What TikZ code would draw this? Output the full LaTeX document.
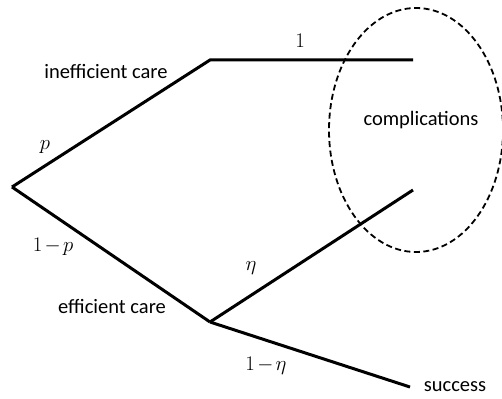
\documentclass[tikz,border=0pt]{standalone}
\usepackage{amsmath}
\usepackage{fontspec}
\setmainfont{Carlito}

\newcommand{\mminus}{\mkern2mu{-}\mkern2mu}

\tikzset{
  branch/.style={line width=3pt},
  txtlbl/.style={font=\fontsize{20.5}{24}\selectfont, inner sep=0pt},
  mathlbl/.style={font=\fontsize{22}{26}\selectfont, inner sep=0pt}
}

\begin{document}
\begin{tikzpicture}[x=1pt, y=-1pt]
\useasboundingbox (0,0) rectangle (502,398);

% Punkty drzewa
\coordinate (root) at (12,187);
\coordinate (ineff) at (210,60);
\coordinate (ineffend) at (413,60);
\coordinate (eff) at (210,322);
\coordinate (complend) at (413,190);
\coordinate (succend) at (410,387);

% Galezie
\draw[branch, line join=miter] (root) -- (ineff) -- (ineffend);
\draw[branch] (root) -- (eff);
\draw[branch] (eff) -- (complend);
\draw[branch] (eff) -- (succend);

% Obszar komplikacji
\draw[line width=1.8pt, dash pattern=on 6pt off 3.5pt] (416,130) ellipse (87 and 122);
\node[txtlbl] (compl) at (421,120) {complications};

% Etykiety wezlow
\node[txtlbl] (ineffl) at (106,71) {inefficient care};
\node[txtlbl] (effl) at (112,306) {efficient care};
\node[txtlbl] (succ) at (455,387) {success};

% Prawdopodobienstwa
\node[mathlbl] (p) at (45,147) {$p$};
\node[mathlbl] (q) at (53,247) {$1\mminus p$};
\node[mathlbl] (one) at (300,41) {$1$};
\node[mathlbl] (eta) at (251,268) {$\eta$};
\node[mathlbl] (neta) at (266,366) {$1\mminus\eta$};
\end{tikzpicture}
\end{document}
